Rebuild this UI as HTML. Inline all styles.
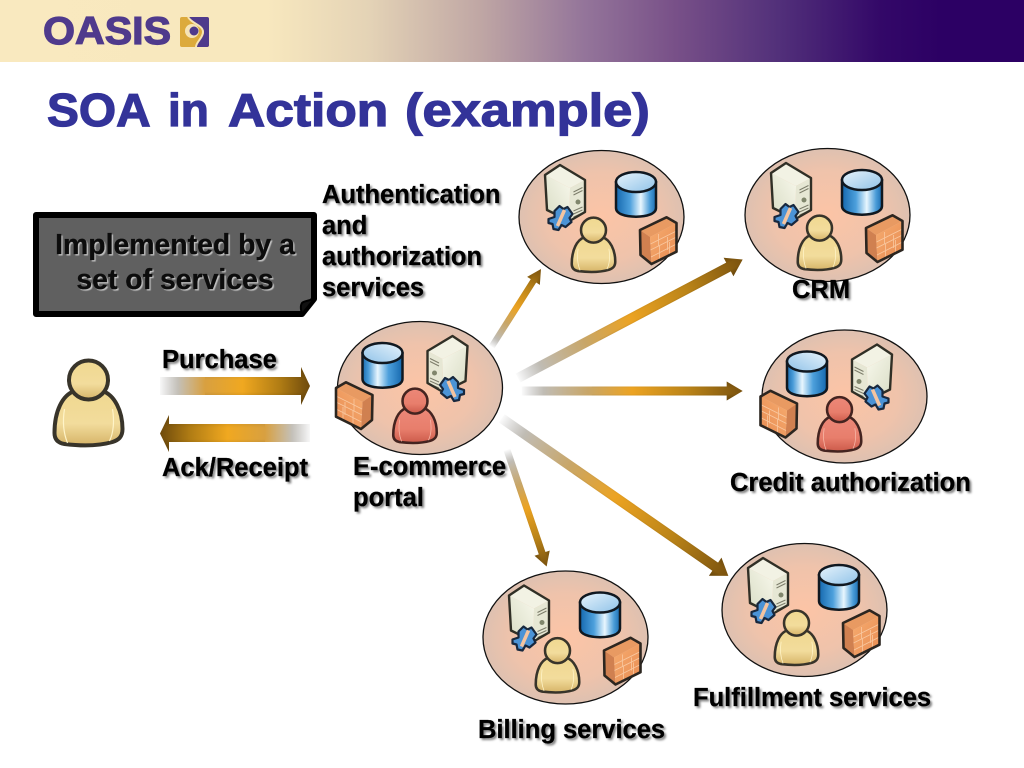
<!DOCTYPE html>
<html><head><meta charset="utf-8">
<style>
html,body{margin:0;padding:0;background:#fff}
#p{position:relative;width:1024px;height:768px;overflow:hidden;background:#fff;font-family:"Liberation Sans",sans-serif}
#hd{position:absolute;left:0;top:0;width:1024px;height:62px;background:linear-gradient(90deg,#f9e9bf 0,#f8e8be 26%,#e4d3b6 36%,#bfa6a4 47%,#94759a 57%,#785088 66%,#52307a 76%,#330868 86%,#2c0064 92%,#2c0064 100%)}
#logo{position:absolute;left:43px;top:9px;font-size:39px;line-height:46px;font-weight:bold;color:#4f3a8c;-webkit-text-stroke:1.2px #4f3a8c;transform:scaleX(1.055);transform-origin:0 0;white-space:nowrap}
.t{position:absolute;top:82px;font-size:46px;line-height:56px;font-weight:bold;color:#333399;-webkit-text-stroke:1.2px #333399;white-space:nowrap;transform-origin:0 0}
.l{position:absolute;font-size:25.5px;line-height:31px;font-weight:bold;color:#000;white-space:nowrap;-webkit-text-stroke:.3px #000;text-shadow:2px 2px 2px rgba(0,0,0,.5)}
#ct{position:absolute;left:33px;width:284px;top:228px;text-align:center;font-size:28.4px;line-height:34.5px;font-weight:bold;color:#0c0c0c;-webkit-text-stroke:.3px #0c0c0c;text-shadow:1.5px 1.5px 1px rgba(225,225,225,.75)}
svg{position:absolute;left:0;top:0}
</style></head><body><div id="p">
<div id="hd"></div>
<div id="logo">OASIS</div>
<div class="t" style="left:47px;transform:scaleX(1.04)">SOA</div>
<div class="t" style="left:168px">in</div>
<div class="t" style="left:228px;transform:scaleX(1.12)">Action</div>
<div class="t" style="left:405px;transform:scaleX(1.14)">(example)</div>
<svg width="1024" height="768" viewBox="0 0 1024 768">
<defs>
<radialGradient id="eg" cx=".5" cy=".5" r=".55"><stop offset="0" stop-color="#fcc4a6"/><stop offset=".6" stop-color="#efc3ab"/><stop offset="1" stop-color="#d9c0b2"/></radialGradient>
<linearGradient id="dbg" x1="0" x2="1" y1="0" y2="0"><stop offset="0" stop-color="#1568ae"/><stop offset=".35" stop-color="#4da0dc"/><stop offset=".62" stop-color="#e8f6fe"/><stop offset=".85" stop-color="#4a9cd8"/><stop offset="1" stop-color="#1a6cb0"/></linearGradient>
<linearGradient id="dbt" x1="0" x2="1" y1="0" y2="1"><stop offset="0" stop-color="#e8f4fc"/><stop offset="1" stop-color="#8fc2e8"/></linearGradient>
<linearGradient id="pg" x1="0" x2="0" y1="0" y2="1"><stop offset="0" stop-color="#f0d890"/><stop offset=".6" stop-color="#f2dc9c"/><stop offset="1" stop-color="#d6b468"/></linearGradient>
<linearGradient id="rg" x1="0" x2="0" y1="0" y2="1"><stop offset="0" stop-color="#ec8878"/><stop offset=".6" stop-color="#e87e6c"/><stop offset="1" stop-color="#cc5a4a"/></linearGradient>
<linearGradient id="sg" x1="1" x2="0" y1="0" y2="1"><stop offset="0" stop-color="#f8f8ec"/><stop offset="1" stop-color="#d8dcc4"/></linearGradient>
<linearGradient id="wg" x1="0" x2="1" y1="0" y2="1"><stop offset="0" stop-color="#f6ac70"/><stop offset="1" stop-color="#e88c52"/></linearGradient>
<linearGradient id="ag" x1="0" x2="1" y1="0" y2="0"><stop offset="0" stop-color="#b0b0b0" stop-opacity=".05"/><stop offset=".1" stop-color="#c0bcb4"/><stop offset=".3" stop-color="#c8a668"/><stop offset=".5" stop-color="#eca322"/><stop offset=".75" stop-color="#bb8418"/><stop offset="1" stop-color="#7a520e"/></linearGradient>
<linearGradient id="ag2" x1="0" x2="1" y1="0" y2="0"><stop offset="0" stop-color="#b8b8b8" stop-opacity=".1"/><stop offset=".12" stop-color="#c4c0b8"/><stop offset=".3" stop-color="#d8a040"/><stop offset=".55" stop-color="#f0a820"/><stop offset=".8" stop-color="#b07c14"/><stop offset="1" stop-color="#6e4a0c"/></linearGradient>
<linearGradient id="ag3" x1="1" x2="0" y1="0" y2="0"><stop offset="0" stop-color="#b8b8b8" stop-opacity=".1"/><stop offset=".12" stop-color="#c4c0b8"/><stop offset=".3" stop-color="#d8a040"/><stop offset=".55" stop-color="#f0a820"/><stop offset=".8" stop-color="#b07c14"/><stop offset="1" stop-color="#6e4a0c"/></linearGradient>
<linearGradient id="shade" x1="0" x2="0" y1="0" y2="1"><stop offset="0" stop-color="#000" stop-opacity=".2"/><stop offset=".35" stop-color="#000" stop-opacity="0"/><stop offset=".65" stop-color="#000" stop-opacity="0"/><stop offset="1" stop-color="#000" stop-opacity=".28"/></linearGradient>
<g id="server">
<path d="M-41.5-52L-16.5-37-31.5-29-56.5-42Z" fill="#f2f2e4"/>
<path d="M-56.5-42L-31.5-29-32 4-54.5-7Z" fill="url(#sg)"/>
<path d="M-31.5-29L-16.5-37-16.5-5-32 4Z" fill="#e6e7d4"/>
<path d="M-28-25l9-4.500M-28-22l9-4.500M-28-6l9-4M-28-3l9-4M-28 0l9-4" stroke="#7c7c6a" stroke-width="1" fill="none"/>
<circle cx="-23.500" cy="-15" r="2.500" fill="#80866c"/>
<path d="M-41.5-52L-16.5-37-16.5-5-32 4-54.5-7-56.5-42Z" fill="none" stroke="#302f26" stroke-width="2.400" stroke-linejoin="round"/>
<path d="M-53 2l6-2 0-6 5-5 4 3 4-2 5 7-3 4 2 4-6 5-4-2-3 5-5-1-1-5-4-1Z" fill="#4b93d6" stroke="#18283e" stroke-width="2.200" stroke-linejoin="round"/>
<path d="M-44 9L-37-7" stroke="#f4c4a0" stroke-width="3.500"/>
</g>
<g id="db">
<path d="M14.5-35V-9C14.5-3 24-.3 34.5-.3S54.5-3 54.5-9V-35Z" fill="url(#dbg)" stroke="#101820" stroke-width="2.500"/>
<ellipse cx="34.5" cy="-35" rx="20" ry="10" fill="url(#dbt)" stroke="#101820" stroke-width="2.500"/>
</g>
<g id="wall">
<path d="M38.5 13L65 .3 75 6 48.5 20Z" fill="#e89a62"/>
<path d="M38.5 13L48.5 20 50 47 39 38Z" fill="#d08050"/>
<path d="M48.5 20L75 6V34.7L50 47Z" fill="url(#wg)"/>
<path d="M49 27L75 14M49 33L75 20M49.500 40L75 27M57 17V29M66 20V33M58 29V42M68 25V37" stroke="#f9c8a0" stroke-width=".8" fill="none"/>
<path d="M38.5 13L65 .3 75 6V34.700L50 47 39 38Z" fill="none" stroke="#2c2620" stroke-width="2.600" stroke-linejoin="round"/>
</g>
<path id="body" d="M-14-6C-26-2-34 14-34 36-34 43-30 46-24 47-8 49 10 49 24 45 30 43 34 40 34 32 34 14 26-2 14-6Z"/>
<g id="personY">
<use href="#body" fill="url(#pg)" stroke="#38342a" stroke-width="4"/>
<path d="M-24 12C-26 24-25 36-21 46M24 12C26 24 25 36 21 44" stroke="#fff4c8" stroke-width="1.200" fill="none"/>
<circle cx="0" cy="-17" r="19.500" fill="url(#pg)" stroke="#38342a" stroke-width="4"/>
</g>
<g id="personR">
<use href="#body" fill="url(#rg)" stroke="#442420" stroke-width="4"/>
<path d="M-24 12C-26 24-25 36-21 46M24 12C26 24 25 36 21 44" stroke="#f8b8a8" stroke-width="1.200" fill="none"/>
<circle cx="0" cy="-17" r="19.500" fill="url(#rg)" stroke="#442420" stroke-width="4"/>
</g>
<ellipse id="disc" cx="0" cy="0" rx="82.500" ry="66.500" fill="url(#eg)" stroke="#111" stroke-width="1.300"/>
<g id="A">
<use href="#disc"/><use href="#server"/><use href="#db"/><use href="#wall"/>
<use href="#personY" transform="translate(-8 24) scale(.64)"/>
</g>
<g id="Bbase">
<use href="#disc"/>
<use href="#db" transform="translate(-3 0) scale(-1 1)"/>
<use href="#server" transform="translate(-9 0) scale(-1 1)"/>
<use href="#wall" transform="translate(-9 -6) scale(-1 1)"/>
</g>
</defs>

<!-- arrows -->
<g transform="translate(491.700 346.700) rotate(-57.600)"><path d="M0-3.200H78V-7.500L92 0 78 7.500V3.200H0Z" fill="url(#ag)"/><path d="M30-3.200H78V-7.500L92 0 78 7.500V3.200H30Z" fill="url(#shade)"/></g>
<g transform="translate(518 378) rotate(-27.800)"><path d="M0-5H238V-10.500L254 0 238 10.500V5H0Z" fill="url(#ag)"/><path d="M90-5H238V-10.500L254 0 238 10.500V5H90Z" fill="url(#shade)"/></g>
<g transform="translate(521.700 391)"><path d="M0-4.500H205V-9.500L221 0 205 9.500V4.500H0Z" fill="url(#ag)"/><path d="M70-4.500H205V-9.500L221 0 205 9.500V4.500H70Z" fill="url(#shade)"/></g>
<g transform="translate(501.700 418.300) rotate(34.800)"><path d="M0-5H260V-11L276 0 260 11V5H0Z" fill="url(#ag)"/><path d="M90-5H260V-11L276 0 260 11V5H90Z" fill="url(#shade)"/></g>
<g transform="translate(507 450) rotate(71.200)"><path d="M0-3.500H109V-8L123 0 109 8V3.500H0Z" fill="url(#ag)"/><path d="M35-3.500H109V-8L123 0 109 8V3.500H35Z" fill="url(#shade)"/></g>
<!-- Purchase / Ack -->
<path d="M160 377H301V367L310 386 301 405V395H160Z" fill="url(#ag2)"/>
<path d="M205 377H301V367L310 386 301 405V395H205Z" fill="url(#shade)"/>
<path d="M310 424H169V415L160 433.500 169 452V442H310Z" fill="url(#ag3)"/>
<path d="M265 424H169V415L160 433.500 169 452V442H265Z" fill="url(#shade)"/>

<!-- clusters -->
<use href="#A" transform="translate(601.500 217)"/>
<use href="#A" transform="translate(827.500 215)"/>
<use href="#A" transform="translate(565.500 637.500)"/>
<use href="#A" transform="translate(804.500 610)"/>
<g transform="translate(420 388)"><use href="#Bbase"/><use href="#personR" transform="translate(-5 24) scale(.64)"/></g>
<g transform="translate(844.500 396.500)"><use href="#Bbase"/><use href="#personR" transform="translate(-5 24) scale(.64)"/></g>
<!-- standalone person -->
<use href="#personY" transform="translate(88.500 397)"/>

<!-- callout -->
<path d="M36 215H314V299L302 314H36Z" fill="#606060" stroke="#000" stroke-width="6" stroke-linejoin="round"/>
<path d="M314 299C308 301 304 301 302 303 300 306 301 310 302 314Z" fill="#111" stroke="#000" stroke-width="2"/>

<!-- logo icon -->
<rect x="180" y="17" width="29" height="30" rx="2" fill="#dcaa3c"/>
<path d="M189 17H207Q209 17 209 19V45Q209 47 207 47H197C197 42 204 38 204 32 204 25 193 24 189 17Z" fill="#4f3a8c"/>
<path d="M188 17C192 24 203 25 203 32 203 38 196 42 196 47" fill="none" stroke="#f6e4b6" stroke-width="2"/>
<circle cx="192" cy="31" r="7" fill="#f6e4b6"/>
<circle cx="194" cy="31" r="4.500" fill="#4f3a8c"/>
</svg>
<div id="ct">Implemented by a<br>set of services</div>
<div class="l" style="left:322px;top:180px">Authentication<br>and<br>authorization<br>services</div>
<div class="l" style="left:162px;top:345px">Purchase</div>
<div class="l" style="left:162px;top:453px">Ack/Receipt</div>
<div class="l" style="left:353px;top:452px">E-commerce<br>portal</div>
<div class="l" style="left:792px;top:275px">CRM</div>
<div class="l" style="left:730px;top:468px">Credit authorization</div>
<div class="l" style="left:693px;top:683px">Fulfillment services</div>
<div class="l" style="left:478px;top:715px">Billing services</div>
</div></body></html>
